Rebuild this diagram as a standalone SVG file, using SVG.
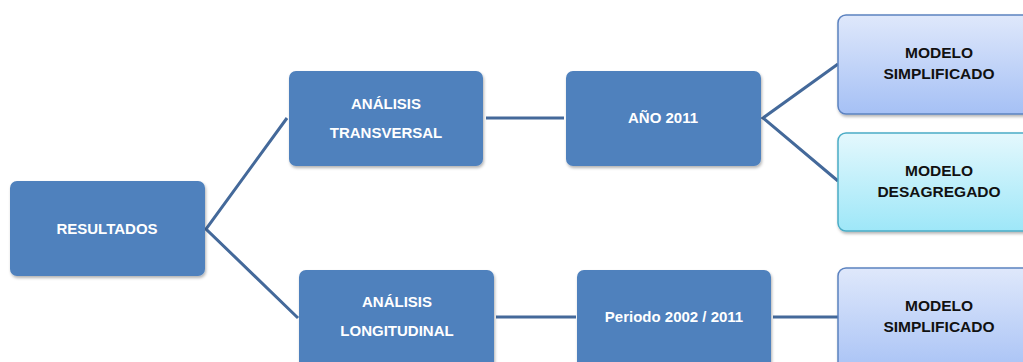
<svg xmlns="http://www.w3.org/2000/svg" width="1023" height="362" viewBox="0 0 1023 362">
<style>
.dk{fill:#4f81bd;}
.lb{stroke:#5b82c0;stroke-width:1.5;}
.cy{stroke:#4bacc6;stroke-width:1.5;}
.tw{font-family:"Liberation Sans",Arial,sans-serif;font-weight:bold;font-size:15px;fill:#ffffff;text-anchor:middle;}
.tk{font-family:"Liberation Sans",Arial,sans-serif;font-weight:bold;font-size:15.5px;fill:#111111;text-anchor:middle;}
.cn{stroke:#44699a;stroke-width:3;fill:none;}
</style>
<defs>
<linearGradient id="gb" x1="0" y1="0" x2="0" y2="1"><stop offset="0" stop-color="#dfe8fb"/><stop offset="1" stop-color="#a5c0f5"/></linearGradient>
<linearGradient id="gc" x1="0" y1="0" x2="0" y2="1"><stop offset="0" stop-color="#e4f8fd"/><stop offset="1" stop-color="#9ee7f8"/></linearGradient>
<filter id="sh" x="-10%" y="-10%" width="120%" height="130%"><feDropShadow dx="1" dy="2" stdDeviation="1.5" flood-color="#000" flood-opacity="0.3"/></filter>
</defs>
<rect width="1023" height="362" fill="#ffffff"/>
<g id="connectors">
<polyline class="cn" points="287,118 206,229 298,318"/>
<line class="cn" x1="486" y1="118" x2="564" y2="118"/>
<polyline class="cn" points="838,64 763,118 838,181"/>
<line class="cn" x1="496" y1="317" x2="576" y2="317"/>
<line class="cn" x1="773" y1="317" x2="839" y2="317"/>
</g>
<g id="resultados"><rect class="dk" x="10" y="181" width="195" height="95" rx="7" filter="url(#sh)"/><text class="tw" x="107" y="234">RESULTADOS</text></g>
<g id="transversal"><rect class="dk" x="289" y="71" width="194" height="95" rx="7" filter="url(#sh)"/><text class="tw" x="386" y="109">ANÁLISIS</text><text class="tw" x="386" y="138">TRANSVERSAL</text></g>
<g id="ano2011"><rect class="dk" x="566" y="71" width="195" height="95" rx="7" filter="url(#sh)"/><text class="tw" x="663" y="123">AÑO 2011</text></g>
<g id="simplificado1"><rect class="lb" x="838" y="15" width="200" height="99" rx="8" fill="url(#gb)" filter="url(#sh)"/><text class="tk" x="939" y="58">MODELO</text><text class="tk" x="939" y="79">SIMPLIFICADO</text></g>
<g id="desagregado"><rect class="cy" x="838" y="133" width="200" height="98" rx="8" fill="url(#gc)" filter="url(#sh)"/><text class="tk" x="939" y="176">MODELO</text><text class="tk" x="939" y="197">DESAGREGADO</text></g>
<g id="longitudinal"><rect class="dk" x="299" y="270" width="195" height="100" rx="7" filter="url(#sh)"/><text class="tw" x="397" y="307">ANÁLISIS</text><text class="tw" x="397" y="336">LONGITUDINAL</text></g>
<g id="periodo"><rect class="dk" x="577" y="270" width="194" height="100" rx="7" filter="url(#sh)"/><text class="tw" x="674" y="322">Periodo 2002 / 2011</text></g>
<g id="simplificado2"><rect class="lb" x="838" y="268" width="200" height="110" rx="8" fill="url(#gb)" filter="url(#sh)"/><text class="tk" x="939" y="311">MODELO</text><text class="tk" x="939" y="332">SIMPLIFICADO</text></g>
</svg>
